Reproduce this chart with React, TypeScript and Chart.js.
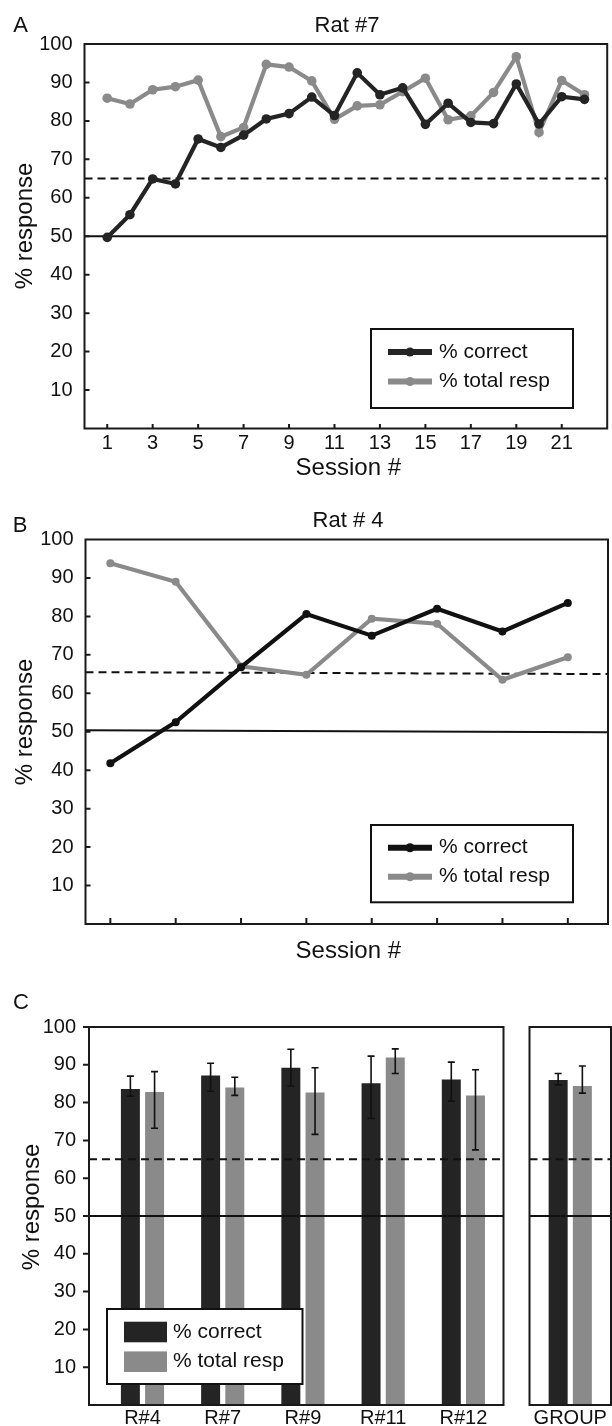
import React, { useEffect, useRef } from 'react';
import { Chart, registerables } from 'chart.js';

Chart.register(...registerables);

const FONT = '"Liberation Sans", Arial, Helvetica, sans-serif';
Chart.defaults.font.family = FONT;

const BLACK = '#242424';
const BLACK_B = '#111111';
const GRAY = '#8a8a8a';
const TEXT = '#111111';

// ---------- shared ----------
const SERIES_LABELS = ['% correct', '% total resp'];
const Y_TICKS = [10, 20, 30, 40, 50, 60, 70, 80, 90, 100];
const Y_INNER_TICKS = [10, 20, 30, 40, 50, 60, 70, 80, 90];
const CRITERION = 65;
const CHANCE = 50;

// ---------- panel A : Rat #7 ----------
const A_SESSIONS = [1, 2, 3, 4, 5, 6, 7, 8, 9, 10, 11, 12, 13, 14, 15, 16, 17, 18, 19, 20, 21, 22];
const A_CORRECT = [49.7, 55.6, 64.9, 63.6, 75.3, 73.1, 76.3, 80.5, 81.9, 86.2, 81.4, 92.5, 86.8, 88.6, 79.1, 84.6, 79.6, 79.3, 89.6, 79.2, 86.3, 85.6];
const A_TOTAL = [85.9, 84.4, 88.1, 88.9, 90.6, 75.9, 78.3, 94.7, 94.0, 90.4, 80.4, 83.9, 84.2, 87.6, 91.1, 80.3, 81.3, 87.4, 96.7, 77.0, 90.5, 86.8];
const A_X_TICKS = [1, 3, 5, 7, 9, 11, 13, 15, 17, 19, 21];

// ---------- panel B : Rat # 4 ----------
const B_SESSIONS = [1, 2, 3, 4, 5, 6, 7, 8];
const B_CORRECT = [41.8, 52.5, 66.8, 80.6, 75.0, 82.0, 76.1, 83.5];
const B_TOTAL = [93.8, 89.0, 67.0, 64.8, 79.4, 78.1, 63.5, 69.4];
const B_CRITERION_LINE: [number, number] = [65.5, 65.0];
const B_CHANCE_LINE: [number, number] = [50.4, 49.9];

// ---------- panel C : bars ----------
const C_RATS = ['R#4', 'R#7', 'R#9', 'R#11', 'R#12'];
const C_POS = [1, 2, 3, 4, 5];
const C_CORRECT = [83.6, 87.2, 89.2, 85.1, 86.1];
const C_CORRECT_LOW = [81.7, 83.0, 84.4, 75.8, 80.4];
const C_CORRECT_HIGH = [87.0, 90.4, 94.1, 92.3, 90.7];
const C_TOTAL = [82.8, 84.0, 82.7, 91.9, 81.9];
const C_TOTAL_LOW = [73.2, 81.9, 71.6, 87.7, 67.5];
const C_TOTAL_HIGH = [88.2, 86.7, 89.2, 94.2, 88.7];

const GROUP_LABELS = ['GROUP'];
const GROUP_CORRECT = [86.0];
const GROUP_CORRECT_LOW = [84.7];
const GROUP_CORRECT_HIGH = [87.7];
const GROUP_TOTAL = [84.4];
const GROUP_TOTAL_LOW = [82.5];
const GROUP_TOTAL_HIGH = [89.7];

// ---------- decoration plugin ----------
type Legend = {
  kind: 'line' | 'bar';
  box: [number, number, number, number];
  rows: [number, number];
  sample: [number, number];
  textX: number;
  colors: [string, string];
};
type Decor = {
  letter?: { text: string; x: number; y: number };
  title?: { text: string; x: number; y: number };
  yTitle?: { x: number; y: number };
  xTitle?: { x: number; y: number };
  lines?: { criterion: [number, number]; chance: [number, number]; over: boolean };
  inwardX?: number[];
  inwardXLen?: number;
  inwardY?: number[];
  outwardY?: number[];
  legend?: Legend;
  errors?: { low: number[]; high: number[] }[];
};

function text(ctx: CanvasRenderingContext2D, s: string, x: number, y: number, size: number, align: CanvasTextAlign = 'center', rot = 0) {
  ctx.save();
  ctx.font = `${size}px ${FONT}`;
  ctx.fillStyle = TEXT;
  ctx.textAlign = align;
  ctx.textBaseline = 'middle';
  ctx.translate(x, y);
  if (rot) ctx.rotate(rot);
  ctx.fillText(s, 0, 0);
  ctx.restore();
}

function drawRefLines(chart: any, l: { criterion: [number, number]; chance: [number, number] }) {
  const { ctx, chartArea: a } = chart;
  const ys = chart.scales.y;
  ctx.save();
  ctx.strokeStyle = '#111';
  ctx.lineWidth = 2;
  ctx.setLineDash([8, 5]);
  ctx.beginPath();
  ctx.moveTo(a.left, ys.getPixelForValue(l.criterion[0]));
  ctx.lineTo(a.right, ys.getPixelForValue(l.criterion[1]));
  ctx.stroke();
  ctx.setLineDash([]);
  ctx.beginPath();
  ctx.moveTo(a.left, ys.getPixelForValue(l.chance[0]));
  ctx.lineTo(a.right, ys.getPixelForValue(l.chance[1]));
  ctx.stroke();
  ctx.restore();
}

function decorPlugin(d: Decor) {
  return {
    id: 'decor',
    beforeDatasetsDraw(chart: any) {
      if (d.lines && !d.lines.over) drawRefLines(chart, d.lines);
    },
    afterDatasetsDraw(chart: any) {
      const { ctx } = chart;
      if (d.lines && d.lines.over) drawRefLines(chart, d.lines);
      if (d.errors) {
        const ys = chart.scales.y;
        d.errors.forEach((e, k) => {
          const meta = chart.getDatasetMeta(k);
          meta.data.forEach((el: any, i: number) => {
            const x = el.x;
            const yl = ys.getPixelForValue(e.low[i]);
            const yh = ys.getPixelForValue(e.high[i]);
            ctx.save();
            ctx.strokeStyle = '#111';
            ctx.lineWidth = 1.6;
            ctx.beginPath();
            ctx.moveTo(x, yl);
            ctx.lineTo(x, yh);
            ctx.moveTo(x - 3.5, yl);
            ctx.lineTo(x + 3.5, yl);
            ctx.moveTo(x - 3.5, yh);
            ctx.lineTo(x + 3.5, yh);
            ctx.stroke();
            ctx.restore();
          });
        });
      }
    },
    afterDraw(chart: any) {
      const { ctx, chartArea: a } = chart;
      const xs = chart.scales.x;
      const ys = chart.scales.y;
      ctx.save();
      ctx.strokeStyle = '#1a1a1a';
      ctx.lineWidth = 2;
      ctx.strokeRect(a.left, a.top, a.right - a.left, a.bottom - a.top);
      ctx.beginPath();
      (d.inwardX || []).forEach((v) => {
        const px = xs.getPixelForValue(v);
        ctx.moveTo(px, a.bottom);
        ctx.lineTo(px, a.bottom - (d.inwardXLen || 5));
      });
      (d.inwardY || []).forEach((v) => {
        const py = ys.getPixelForValue(v);
        ctx.moveTo(a.left, py);
        ctx.lineTo(a.left + 5, py);
      });
      (d.outwardY || []).forEach((v) => {
        const py = ys.getPixelForValue(v);
        ctx.moveTo(a.left - 6, py);
        ctx.lineTo(a.left, py);
      });
      ctx.stroke();
      ctx.restore();

      if (d.letter) text(ctx, d.letter.text, d.letter.x, d.letter.y, 22);
      if (d.title) text(ctx, d.title.text, d.title.x, d.title.y, 22);
      if (d.yTitle) text(ctx, '% response', d.yTitle.x, d.yTitle.y, 24, 'center', -Math.PI / 2);
      if (d.xTitle) text(ctx, 'Session #', d.xTitle.x, d.xTitle.y, 24);

      const L = d.legend;
      if (L) {
        ctx.save();
        ctx.fillStyle = '#fff';
        ctx.fillRect(L.box[0], L.box[1], L.box[2] - L.box[0], L.box[3] - L.box[1]);
        ctx.strokeStyle = '#111';
        ctx.lineWidth = 2;
        ctx.strokeRect(L.box[0], L.box[1], L.box[2] - L.box[0], L.box[3] - L.box[1]);
        L.rows.forEach((ry, i) => {
          const c = L.colors[i];
          if (L.kind === 'line') {
            ctx.strokeStyle = c;
            ctx.lineWidth = 6;
            ctx.beginPath();
            ctx.moveTo(L.sample[0], ry);
            ctx.lineTo(L.sample[1], ry);
            ctx.stroke();
            ctx.fillStyle = c;
            ctx.beginPath();
            ctx.arc((L.sample[0] + L.sample[1]) / 2, ry, 4.5, 0, Math.PI * 2);
            ctx.fill();
          } else {
            ctx.fillStyle = c;
            ctx.fillRect(L.sample[0], ry - 10.3, L.sample[1] - L.sample[0], 20.6);
          }
          text(ctx, SERIES_LABELS[i], L.textX, ry, 21, 'left');
        });
        ctx.restore();
      }
    },
  };
}

const hiddenGrid = { display: false, drawTicks: false, drawOnChartArea: false };
const tickFont = { size: 20 };

function yScale(width: number, padding: number, display = true) {
  return {
    display,
    min: 0,
    max: 100,
    afterBuildTicks: (s: any) => {
      s.ticks = Y_TICKS.map((value) => ({ value }));
    },
    afterFit: (s: any) => {
      s.width = width;
      s.paddingTop = 0;
      s.paddingBottom = 0;
    },
    grid: hiddenGrid,
    border: { display: false },
    ticks: { font: tickFont, color: TEXT, padding },
  };
}

function lineDataset(label: string, xs: number[], ys: number[], color: string, r: number) {
  return {
    label,
    data: xs.map((x, i) => ({ x, y: ys[i] })),
    borderColor: color,
    backgroundColor: color,
    borderWidth: 4.2,
    pointRadius: r,
    pointBackgroundColor: color,
    pointBorderWidth: 0,
    tension: 0,
  };
}

function configA(): any {
  return {
    type: 'line',
    data: {
      datasets: [
        lineDataset(SERIES_LABELS[0], A_SESSIONS, A_CORRECT, BLACK, 4.8),
        lineDataset(SERIES_LABELS[1], A_SESSIONS, A_TOTAL, GRAY, 4.8),
      ],
    },
    options: {
      responsive: false,
      animation: false,
      layout: { padding: { top: 44, right: 1, left: 0, bottom: 0 } },
      plugins: { legend: { display: false }, tooltip: { enabled: false }, title: { display: false } },
      scales: {
        x: {
          type: 'linear',
          min: 0,
          max: 23,
          afterBuildTicks: (s: any) => {
            s.ticks = A_X_TICKS.map((value) => ({ value }));
          },
          afterFit: (s: any) => {
            s.height = 490 - 428.5;
          },
          grid: hiddenGrid,
          border: { display: false },
          ticks: { font: tickFont, color: TEXT, padding: 2.5, maxRotation: 0, autoSkip: false },
        },
        y: yScale(84.5, 12),
      },
    },
    plugins: [
      decorPlugin({
        letter: { text: 'A', x: 20.5, y: 26 },
        title: { text: 'Rat #7', x: 347, y: 26.3 },
        yTitle: { x: 25.8, y: 226 },
        xTitle: { x: 348.3, y: 468 },
        lines: { criterion: [CRITERION, CRITERION], chance: [CHANCE, CHANCE], over: false },
        inwardX: A_X_TICKS,
        inwardXLen: 4.5,
        inwardY: Y_INNER_TICKS,
        legend: { kind: 'line', box: [371, 329, 573, 408], rows: [352, 381.5], sample: [388, 432], textX: 439, colors: [BLACK, GRAY] },
      }),
    ],
  };
}

function configB(): any {
  return {
    type: 'line',
    data: {
      datasets: [
        lineDataset(SERIES_LABELS[0], B_SESSIONS, B_CORRECT, BLACK_B, 4),
        lineDataset(SERIES_LABELS[1], B_SESSIONS, B_TOTAL, GRAY, 4),
      ],
    },
    options: {
      responsive: false,
      animation: false,
      layout: { padding: { top: 49.5, right: 1, left: 0, bottom: 0 } },
      plugins: { legend: { display: false }, tooltip: { enabled: false }, title: { display: false } },
      scales: {
        x: {
          type: 'linear',
          min: 0.62,
          max: 8.615,
          afterBuildTicks: (s: any) => {
            s.ticks = B_SESSIONS.map((value) => ({ value }));
          },
          afterFit: (s: any) => {
            s.height = 480 - 434;
          },
          grid: hiddenGrid,
          border: { display: false },
          ticks: { display: false },
        },
        y: yScale(85.5, 12),
      },
    },
    plugins: [
      decorPlugin({
        letter: { text: 'B', x: 20, y: 35.5 },
        title: { text: 'Rat # 4', x: 348, y: 30.7 },
        yTitle: { x: 25.8, y: 232 },
        xTitle: { x: 348.3, y: 461 },
        lines: { criterion: B_CRITERION_LINE, chance: B_CHANCE_LINE, over: false },
        inwardX: B_SESSIONS,
        inwardXLen: 6,
        inwardY: Y_INNER_TICKS,
        legend: { kind: 'line', box: [371, 335, 573, 412.3], rows: [357.7, 386.7], sample: [388, 432], textX: 439, colors: [BLACK_B, GRAY] },
      }),
    ],
  };
}

function configC(): any {
  return {
    type: 'bar',
    data: {
      datasets: [
        { label: SERIES_LABELS[0], data: C_POS.map((x, i) => ({ x, y: C_CORRECT[i] })), backgroundColor: BLACK, borderWidth: 0 },
        { label: SERIES_LABELS[1], data: C_POS.map((x, i) => ({ x, y: C_TOTAL[i] })), backgroundColor: GRAY, borderWidth: 0 },
      ],
    },
    options: {
      responsive: false,
      animation: false,
      categoryPercentage: 0.603,
      barPercentage: 0.785,
      layout: { padding: { top: 47, right: 108.5, left: 0, bottom: 0 } },
      plugins: { legend: { display: false }, tooltip: { enabled: false }, title: { display: false } },
      scales: {
        x: {
          type: 'linear',
          offset: false,
          min: 1 / 3,
          max: 5.5,
          afterBuildTicks: (s: any) => {
            s.ticks = C_POS.map((value) => ({ value }));
          },
          afterFit: (s: any) => {
            s.height = 446 - 425;
          },
          grid: hiddenGrid,
          border: { display: false },
          ticks: {
            font: tickFont,
            color: TEXT,
            padding: 1.5,
            maxRotation: 0,
            autoSkip: false,
            callback: (v: number) => C_RATS[Math.round(v) - 1] ?? '',
          },
        },
        y: yScale(89, 13),
      },
    },
    plugins: [
      decorPlugin({
        letter: { text: 'C', x: 21, y: 23 },
        yTitle: { x: 32, y: 227 },
        lines: { criterion: [CRITERION, CRITERION], chance: [CHANCE, CHANCE], over: true },
        outwardY: Y_TICKS,
        legend: { kind: 'bar', box: [107, 329, 302.5, 404], rows: [352, 381.7], sample: [124, 167], textX: 173, colors: [BLACK, GRAY] },
        errors: [
          { low: C_CORRECT_LOW, high: C_CORRECT_HIGH },
          { low: C_TOTAL_LOW, high: C_TOTAL_HIGH },
        ],
      }),
    ],
  };
}

function configGroup(): any {
  return {
    type: 'bar',
    data: {
      labels: GROUP_LABELS,
      datasets: [
        { label: SERIES_LABELS[0], data: GROUP_CORRECT, backgroundColor: BLACK, borderWidth: 0 },
        { label: SERIES_LABELS[1], data: GROUP_TOTAL, backgroundColor: GRAY, borderWidth: 0 },
      ],
    },
    options: {
      responsive: false,
      animation: false,
      categoryPercentage: 0.594,
      barPercentage: 0.785,
      layout: { padding: { top: 47, right: 1, left: 9.5, bottom: 0 } },
      plugins: { legend: { display: false }, tooltip: { enabled: false }, title: { display: false } },
      scales: {
        x: {
          type: 'category',
          afterFit: (s: any) => {
            s.height = 446 - 425;
          },
          grid: hiddenGrid,
          border: { display: false },
          ticks: { font: tickFont, color: TEXT, padding: 1.5, maxRotation: 0, autoSkip: false },
        },
        y: yScale(0, 0, false),
      },
    },
    plugins: [
      decorPlugin({
        lines: { criterion: [CRITERION, CRITERION], chance: [CHANCE, CHANCE], over: true },
        errors: [
          { low: GROUP_CORRECT_LOW, high: GROUP_CORRECT_HIGH },
          { low: GROUP_TOTAL_LOW, high: GROUP_TOTAL_HIGH },
        ],
      }),
    ],
  };
}

function ChartBox({ left, top, width, height, make }: { left: number; top: number; width: number; height: number; make: () => any }) {
  const ref = useRef<HTMLCanvasElement>(null);
  useEffect(() => {
    const chart = new Chart(ref.current as HTMLCanvasElement, make());
    return () => chart.destroy();
  }, []);
  return (
    <canvas
      ref={ref}
      width={width}
      height={height}
      style={{ position: 'absolute', left, top, width, height, display: 'block' }}
    />
  );
}

export default function App() {
  return (
    <div style={{ position: 'absolute', left: 0, top: 0, width: 612, height: 1426, background: '#fff', overflow: 'hidden' }}>
      <ChartBox left={0} top={0} width={612} height={490} make={configA} />
      <ChartBox left={0} top={490} width={612} height={480} make={configB} />
      <ChartBox left={0} top={980} width={612} height={446} make={configC} />
      <ChartBox left={520} top={980} width={92} height={446} make={configGroup} />
    </div>
  );
}
